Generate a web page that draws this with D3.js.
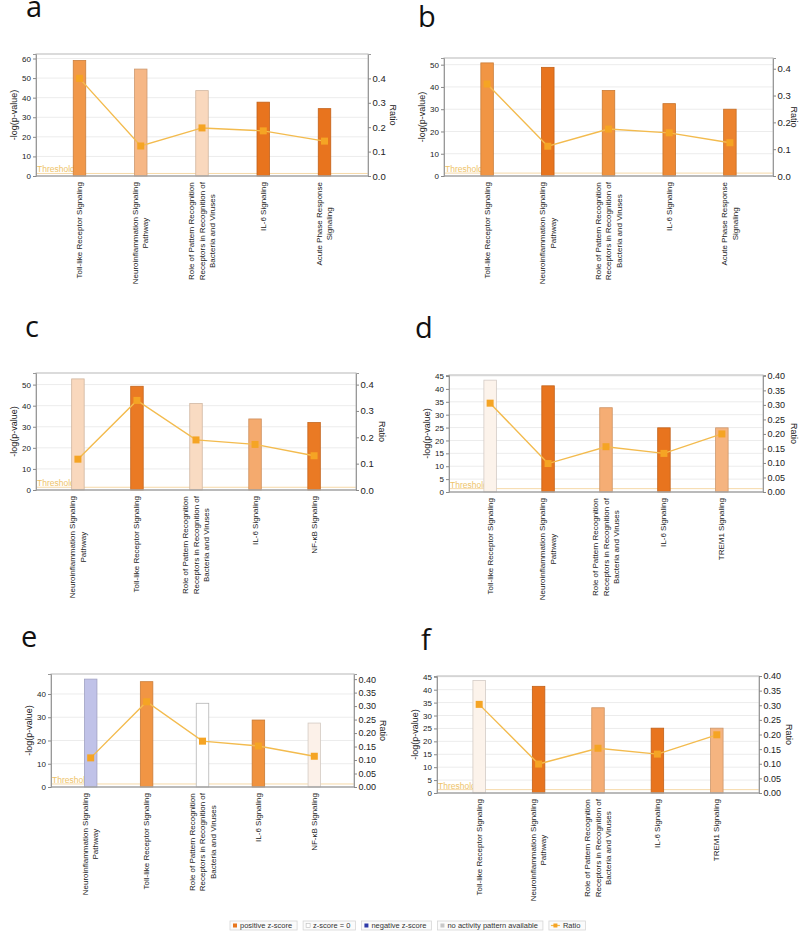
<!DOCTYPE html>
<html><head><meta charset="utf-8">
<script src="https://cdn.jsdelivr.net/npm/d3@7"></script>
<style>body{margin:0;background:#fff}svg{display:block}</style>
</head><body><svg id="chart" width="800" height="932"></svg>
<script>
// ---------- DATA ----------
const TLR = "Toll-like Receptor Signaling";
const NEURO = "Neuroinflammation Signaling Pathway";
const PRR = "Role of Pattern Recognition Receptors in Recognition of Bacteria and Viruses";
const IL6 = "IL-6 Signaling";
const APR = "Acute Phase Response Signaling";
const NFKB = "NF-κB Signaling";
const TREM1 = "TREM1 Signaling";

const labelLines = {
  [TLR]: ["Toll-like Receptor Signaling"],
  [NEURO]: ["Neuroinflammation Signaling", "Pathway"],
  [PRR]: ["Role of Pattern Recognition", "Receptors in Recognition of", "Bacteria and Viruses"],
  [IL6]: ["IL-6 Signaling"],
  [APR]: ["Acute Phase Response", "Signaling"],
  [NFKB]: ["NF-κB Signaling"],
  [TREM1]: ["TREM1 Signaling"]
};

const categoriesA = [TLR, NEURO, PRR, IL6, APR];
const logpA  = [59.0, 54.6, 43.6, 37.7, 34.4];
const ratioA = [0.400, 0.123, 0.197, 0.185, 0.143];
const zA     = [3.8, 2.8, 1.8, 5.0, 5.0];
const leftTicksA = [0, 10, 20, 30, 40, 50, 60];
const rightTicksA = [0, 0.1, 0.2, 0.3, 0.4];

const categoriesB = [TLR, NEURO, PRR, IL6, APR];
const logpB  = [50.8, 48.8, 38.4, 32.5, 30.0];
const ratioB = [0.343, 0.111, 0.175, 0.161, 0.124];
const zB     = [3.9, 5.0, 4.0, 4.3, 4.5];
const leftTicksB = [0, 10, 20, 30, 40, 50];
const rightTicksB = [0, 0.1, 0.2, 0.3, 0.4];

const categoriesC = [NEURO, TLR, PRR, IL6, NFKB];
const logpC  = [52.7, 49.2, 41.0, 33.7, 32.0];
const ratioC = [0.117, 0.340, 0.190, 0.173, 0.130];
const zC     = [1.8, 4.8, 1.7, 3.2, 4.8];
const leftTicksC = [0, 10, 20, 30, 40, 50];
const rightTicksC = [0, 0.1, 0.2, 0.3, 0.4];

const categoriesD = [TLR, NEURO, PRR, IL6, TREM1];
const logpD  = [43.4, 41.2, 32.7, 24.9, 24.9];
const ratioD = [0.306, 0.098, 0.156, 0.133, 0.200];
const zD     = [0.7, 5.0, 3.1, 5.0, 2.9];
const leftTicksD = [0, 5, 10, 15, 20, 25, 30, 35, 40, 45];
const rightTicksD = [0, 0.05, 0.10, 0.15, 0.20, 0.25, 0.30, 0.35, 0.40];

const categoriesE = [NEURO, TLR, PRR, IL6, NFKB];
const logpE  = [46.4, 45.3, 36.0, 28.8, 27.5];
const ratioE = [0.108, 0.316, 0.170, 0.152, 0.114];
const zE     = [-1.5, 3.9, 0, 4.0, 0.8];
const leftTicksE = [0, 10, 20, 30, 40];
const rightTicksE = [0, 0.05, 0.10, 0.15, 0.20, 0.25, 0.30, 0.35, 0.40];

const categoriesF = [TLR, NEURO, PRR, IL6, TREM1];
const logpF  = [43.6, 41.3, 33.0, 25.1, 25.1];
const ratioF = [0.303, 0.099, 0.153, 0.133, 0.199];
const zF     = [0.7, 5.0, 3.1, 5.0, 2.9];
const leftTicksF = [0, 5, 10, 15, 20, 25, 30, 35, 40, 45];
const rightTicksF = [0, 0.05, 0.10, 0.15, 0.20, 0.25, 0.30, 0.35, 0.40];

const thresholdValue = 1.3;
const legendLabels = ["positive z-score", "z-score = 0", "negative z-score", "no activity pattern available", "Ratio"];

// ---------- LAYOUT ----------
const panels = [
  {letter:"a", cats:categoriesA, logp:logpA, ratio:ratioA, z:zA, lt:leftTicksA, rt:rightTicksA, rfmt:".1f",
   x0:36, x1:368, y0:54, y1:176, yMax:62.3, rMax:0.50, rLabX:393, lx:26, ly:17},
  {letter:"b", cats:categoriesB, logp:logpB, ratio:ratioB, z:zB, lt:leftTicksB, rt:rightTicksB, rfmt:".1f",
   x0:444, x1:773, y0:58, y1:176, yMax:53.0, rMax:0.44, rLabX:794, lx:418, ly:27},
  {letter:"c", cats:categoriesC, logp:logpC, ratio:ratioC, z:zC, lt:leftTicksC, rt:rightTicksC, rfmt:".1f",
   x0:36, x1:356, y0:373, y1:490, yMax:55.5, rMax:0.444, rLabX:382, lx:25, ly:337},
  {letter:"d", cats:categoriesD, logp:logpD, ratio:ratioD, z:zD, lt:leftTicksD, rt:rightTicksD, rfmt:".2f",
   x0:449, x1:763, y0:375, y1:492, yMax:45.4, rMax:0.403, rLabX:794, lx:415, ly:338},
  {letter:"e", cats:categoriesE, logp:logpE, ratio:ratioE, z:zE, lt:leftTicksE, rt:rightTicksE, rfmt:".2f",
   x0:51, x1:354, y0:674, y1:787, yMax:48.6, rMax:0.419, rLabX:383, lx:21, ly:647},
  {letter:"f", cats:categoriesF, logp:logpF, ratio:ratioF, z:zF, lt:leftTicksF, rt:rightTicksF, rfmt:".2f",
   x0:437, x1:759, y0:676, y1:793, yMax:45.3, rMax:0.40, rLabX:789, lx:421, ly:650}
];

const posColor = d3.scaleLinear().domain([0,1,2,3,4,5])
  .range(["#ffffff","#fbeee3","#f8d3b4","#f5b07a","#f0923e","#e8741e"]).clamp(true);
const negColor = d3.scaleLinear().domain([0,-1,-5])
  .range(["#ffffff","#d4d4f0","#3040b0"]).clamp(true);
function barFill(z){ return z >= 0 ? posColor(z) : negColor(z); }
function barStroke(z){ return z === 0 ? "#b5b5b5" : d3.color(barFill(z)).darker(0.5).formatHex(); }

const FONT = "'Liberation Sans', Arial, sans-serif";
const svg = d3.select("#chart");
svg.append("rect").attr("width",800).attr("height",932).attr("fill","#fff");

panels.forEach(p => {
  const g = svg.append("g");
  const x = d3.scalePoint().domain(p.cats).range([p.x0, p.x1]).padding(0.71);
  const y = d3.scaleLinear().domain([0, p.yMax]).range([p.y1, p.y0]);
  const r = d3.scaleLinear().domain([0, p.rMax]).range([p.y1, p.y0]);

  // panel letter
  svg.append("text").attr("x", p.lx).attr("y", p.ly)
    .attr("font-family","'Open Sans', sans-serif").attr("font-size",29).attr("fill","#111")
    .text(p.letter);

  // gridlines
  g.append("g").selectAll("line").data(p.lt.filter(v => v > 0)).join("line")
    .attr("x1", p.x0).attr("x2", p.x1).attr("y1", d => y(d)).attr("y2", d => y(d))
    .attr("stroke","#ececec").attr("stroke-width",1);

  // threshold
  g.append("line").attr("x1", p.x0).attr("x2", p.x1)
    .attr("y1", y(thresholdValue)).attr("y2", y(thresholdValue))
    .attr("stroke","#f6d9a8").attr("stroke-width",1);
  g.append("text").attr("x", p.x0 + 1).attr("y", y(thresholdValue) - 1)
    .attr("font-family", FONT).attr("font-size", 8.5).attr("fill","#eec36a")
    .text("Threshold");

  // bars
  const bw = 12.5;
  g.append("g").selectAll("rect").data(p.cats).join("rect")
    .attr("x", d => x(d) - bw/2).attr("width", bw)
    .attr("y", (d,i) => y(p.logp[i])).attr("height", (d,i) => y(0) - y(p.logp[i]))
    .attr("fill", (d,i) => barFill(p.z[i]))
    .attr("stroke", (d,i) => barStroke(p.z[i])).attr("stroke-width", 0.8);

  // ratio line
  const line = d3.line().x((d,i) => x(p.cats[i])).y(d => r(d));
  g.append("path").datum(p.ratio).attr("d", line)
    .attr("fill","none").attr("stroke","#f3bb4e").attr("stroke-width",1.4);
  g.append("g").selectAll("rect").data(p.ratio).join("rect")
    .attr("x", (d,i) => x(p.cats[i]) - 3.5).attr("y", d => r(d) - 3.5)
    .attr("width",7).attr("height",7).attr("fill","#f5a424");

  // frame
  g.append("rect").attr("x", p.x0).attr("y", p.y0)
    .attr("width", p.x1 - p.x0).attr("height", p.y1 - p.y0)
    .attr("fill","none").attr("stroke","#b8b8b8").attr("stroke-width",1);
  g.append("line").attr("x1", p.x0).attr("x2", p.x1).attr("y1", p.y1).attr("y2", p.y1)
    .attr("stroke","#999").attr("stroke-width",1);

  // axes
  const la = g.append("g").attr("transform",`translate(${p.x0},0)`)
    .call(d3.axisLeft(y).tickValues(p.lt).tickFormat(d3.format("d")).tickSize(3).tickPadding(2));
  const ra = g.append("g").attr("transform",`translate(${p.x1},0)`)
    .call(d3.axisRight(r).tickValues(p.rt).tickFormat(d3.format(p.rfmt)).tickSize(3).tickPadding(1.5));
  [la, ra].forEach(a => {
    a.select(".domain").attr("stroke","#999");
    a.selectAll(".tick line").attr("stroke","#888");
    a.selectAll(".tick text").attr("font-family", FONT).attr("fill","#222");
  });
  la.selectAll(".tick text").attr("font-size", 8);
  ra.selectAll(".tick text").attr("font-size", p.rfmt === ".1f" ? 9.5 : 9);

  // axis titles
  const cy = (p.y0 + p.y1) / 2;
  g.append("text").attr("transform",`translate(${p.x0 - 22},${cy}) rotate(-90)`)
    .attr("text-anchor","middle").attr("dominant-baseline","central")
    .attr("font-family", FONT).attr("font-size", 9).attr("fill","#222").text("-log(p-value)");
  g.append("text").attr("transform",`translate(${p.rLabX},${cy}) rotate(90)`)
    .attr("text-anchor","middle").attr("dominant-baseline","central")
    .attr("font-family", FONT).attr("font-size", 9).attr("fill","#222").text("Ratio");

  // category labels (rotated)
  p.cats.forEach(c => {
    const lines = labelLines[c];
    const lg = g.append("g").attr("transform",`translate(${x(c)},${p.y1}) rotate(-90)`);
    const texts = lines.map((s,i) => lg.append("text")
      .attr("y", (i - (lines.length - 1) / 2) * 10.5)
      .attr("text-anchor","middle").attr("dominant-baseline","central")
      .attr("font-family", FONT).attr("font-size", 8).attr("fill","#222").text(s));
    const maxLen = d3.max(texts, t => t.node().getComputedTextLength());
    texts.forEach(t => t.attr("x", -(6 + maxLen / 2)));
  });
});

// ---------- LEGEND ----------
const lgY = 921, lgH = 9;
let lx = 230;
legendLabels.forEach((label, i) => {
  const gg = svg.append("g");
  const box = gg.append("rect").attr("y", lgY).attr("height", lgH)
    .attr("fill","#fbfbfb").attr("stroke","#d6d6d6").attr("stroke-width",0.8);
  let sw = 10;
  if (i === 0) gg.append("rect").attr("x", lx+3).attr("y", lgY+2.5).attr("width",4).attr("height",4).attr("fill","#e8771f");
  if (i === 1) gg.append("rect").attr("x", lx+3).attr("y", lgY+2.5).attr("width",4).attr("height",4).attr("fill","#fff").attr("stroke","#bbb").attr("stroke-width",0.6);
  if (i === 2) gg.append("rect").attr("x", lx+3).attr("y", lgY+2.5).attr("width",4).attr("height",4).attr("fill","#2e3aa8");
  if (i === 3) gg.append("rect").attr("x", lx+3).attr("y", lgY+2.5).attr("width",4).attr("height",4).attr("fill","#c8c8c8");
  if (i === 4) {
    gg.append("line").attr("x1", lx+2).attr("x2", lx+11).attr("y1", lgY+4.5).attr("y2", lgY+4.5).attr("stroke","#f3bb4e").attr("stroke-width",1.2);
    gg.append("rect").attr("x", lx+4.5).attr("y", lgY+2.5).attr("width",4).attr("height",4).attr("fill","#f5a424");
    sw = 14;
  }
  const t = gg.append("text").attr("x", lx + sw).attr("y", lgY + lgH/2)
    .attr("dominant-baseline","central").attr("font-family", FONT).attr("font-size", 7.5)
    .attr("fill","#333").text(label);
  const w = sw + t.node().getComputedTextLength() + 5;
  box.attr("x", lx).attr("width", w);
  lx += w + 6;
});
</script></body></html>
